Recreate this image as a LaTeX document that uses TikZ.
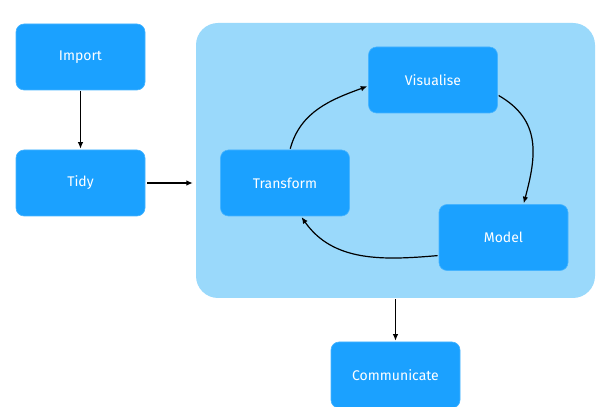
\documentclass[tikz,border=0pt]{standalone}
\usepackage{fontspec}
\setmainfont{Fira Sans}
\usetikzlibrary{arrows.meta}
\definecolor{nodeblue}{RGB}{27,161,255}
\definecolor{nodeedge}{RGB}{70,180,255}
\definecolor{bigblue}{RGB}{154,217,251}
\begin{document}
\begin{tikzpicture}[x=1pt,y=1pt,
  box/.style={draw=nodeedge,line width=0.6pt,fill=nodeblue,rounded corners=8pt,minimum width=129pt,minimum height=66pt,inner sep=0pt,text=white,font=\fontsize{14}{16}\selectfont},
  arr/.style={-{Latex[length=6.5pt,width=5.5pt]},line width=1.2pt,black}]
\useasboundingbox (0,0) rectangle (600,407);
\node[draw=none,fill=bigblue,rounded corners=22pt,minimum width=399pt,minimum height=275pt,inner sep=0pt] (big) at (395.5,246.5) {};
\node[box] (import) at (80.5,350) {Import};
\node[box] (tidy) at (80.5,224) {Tidy};
\node[box] (vis) at (433,327) {Visualise};
\node[box] (trans) at (285,224) {Transform};
\node[box] (model) at (503.5,169.5) {Model};
\node[box] (comm) at (395.5,32) {Communicate};
\draw[arr,shorten <=1pt,shorten >=1pt] (import) -- (tidy);
\draw[arr,shorten <=2pt,shorten >=3pt] (tidy.east) -- (tidy.east -| big.west);
\draw[arr,shorten <=1pt,shorten >=1pt] (big.south -| comm.north) -- (comm.north);
\draw[arr,shorten <=1pt,shorten >=1pt] ([xshift=5pt]trans.north) to[out=75,in=200] ([yshift=-6pt]vis.west);
\draw[arr,shorten <=1pt,shorten >=1pt] ([yshift=-15pt]vis.east) to[out=-30,in=75,looseness=1.15] ([xshift=20pt]model.north);
\draw[arr,shorten <=1pt,shorten >=1pt] ([yshift=-18pt]model.west) to[out=185,in=-55] ([xshift=16pt]trans.south);
\end{tikzpicture}
\end{document}
